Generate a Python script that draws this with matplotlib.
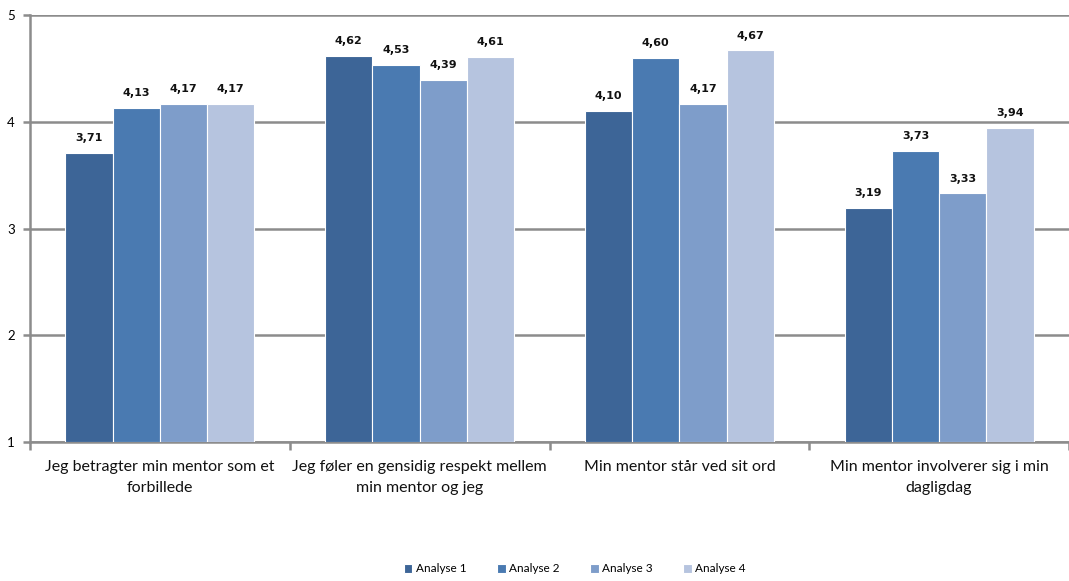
import matplotlib
matplotlib.use("Agg")
import matplotlib.pyplot as plt
import numpy as np

categories = [
    "Jeg betragter min mentor som et\nforbillede",
    "Jeg føler en gensidig respekt mellem\nmin mentor og jeg",
    "Min mentor står ved sit ord",
    "Min mentor involverer sig i min\ndagligdag",
]
series_names = ["Analyse 1", "Analyse 2", "Analyse 3", "Analyse 4"]
analyse1 = [3.71, 4.62, 4.10, 3.19]
analyse2 = [4.13, 4.53, 4.60, 3.73]
analyse3 = [4.17, 4.39, 4.17, 3.33]
analyse4 = [4.17, 4.61, 4.67, 3.94]
yticks = [1, 2, 3, 4, 5]
colors = ["#3D6597", "#4A7AB1", "#7E9DCA", "#B6C4DF"]

plt.rcParams['font.family'] = ['Lato', 'DejaVu Sans']

fig = plt.figure(figsize=(10.69, 5.81), dpi=100)
ax = fig.add_axes([30/1069, 1-442/581, 1-30/1069, (442-15)/581])

series = [analyse1, analyse2, analyse3, analyse4]
x = np.arange(len(categories))
bw = 0.182
for i, (vals, name, c) in enumerate(zip(series, series_names, colors)):
    pos = x + (i - 1.5) * bw
    ax.bar(pos, np.array(vals) - 1, bottom=1, width=bw, color=c,
           edgecolor="white", linewidth=0.8, label=name, zorder=3)
    for p, v in zip(pos, vals):
        ax.annotate(f"{v:.2f}".replace(".", ","), (p, v), xytext=(0, 7),
                    textcoords="offset points", ha="center", va="bottom",
                    fontsize=8, fontweight="bold", color="#111111",
                    family=['DejaVu Sans'])

ax.set_ylim(1, 5)
ax.set_xlim(-0.5, len(categories) - 0.5)
ax.set_yticks(yticks)
ax.set_yticklabels([str(t) for t in yticks], fontsize=9.5)
ax.yaxis.grid(True, color="#8C8C8C", linewidth=1.8, zorder=0)
ax.set_axisbelow(True)

ax.set_xticks(np.arange(len(categories) + 1) - 0.5)
ax.set_xticklabels([])
ax.set_xticks(x, minor=True)
ax.set_xticklabels(categories, minor=True, fontsize=11.5, color="#111111",
                   linespacing=1.65)
ax.tick_params(axis="x", which="minor", length=0, pad=13)
ax.tick_params(axis="x", which="major", length=6, width=1.8, color="#8C8C8C")
ax.tick_params(axis="y", length=5, width=1.8, color="#8C8C8C", pad=6)

for s in ["top", "right"]:
    ax.spines[s].set_visible(False)
for s in ["left", "bottom"]:
    ax.spines[s].set_color("#8C8C8C")
    ax.spines[s].set_linewidth(1.8)

handles, labels = ax.get_legend_handles_labels()
fig.legend(handles, labels, loc="center", bbox_to_anchor=(575/1069, 1-569/581),
           ncol=4, frameon=False, fontsize=8.5, handlelength=0.7, handleheight=0.7,
           handletextpad=0.3, columnspacing=2.6)

fig.savefig("out.png", dpi=100)
